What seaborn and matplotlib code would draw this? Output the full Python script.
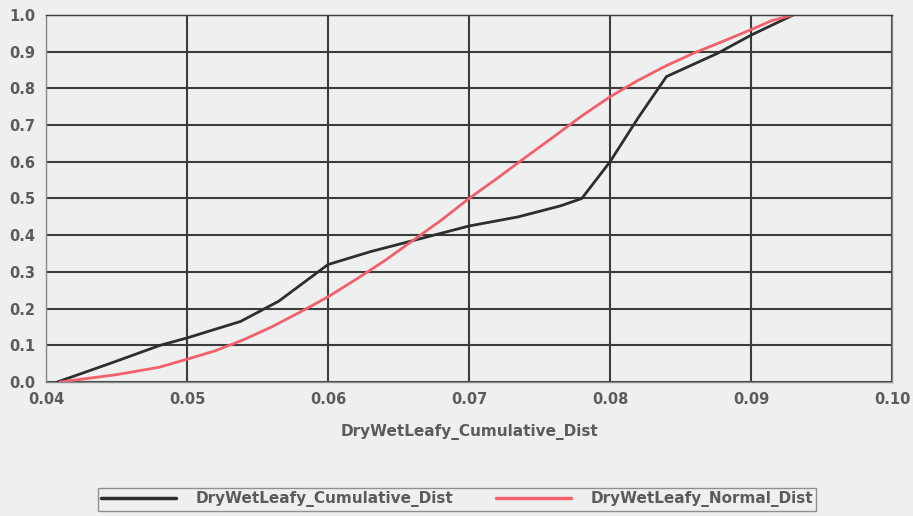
import numpy as np
import pandas as pd
import matplotlib.pyplot as plt
import seaborn as sns
from matplotlib.ticker import MultipleLocator
from matplotlib.lines import Line2D

# valores
cum_x = [0.0408, 0.0445, 0.0481, 0.0500, 0.0538, 0.0565, 0.0600, 0.0630, 0.0660,
         0.0700, 0.0735, 0.0765, 0.0780, 0.0800, 0.0820, 0.0840, 0.0876, 0.0900, 0.0930]
cum_y = [0.000, 0.050, 0.100, 0.120, 0.165, 0.220, 0.320, 0.355, 0.385,
         0.425, 0.450, 0.480, 0.500, 0.600, 0.720, 0.832, 0.895, 0.945, 1.000]

norm_x = [0.0410, 0.0450, 0.0480, 0.0500, 0.0520, 0.0540, 0.0560, 0.0580, 0.0600,
          0.0620, 0.0640, 0.0660, 0.0680, 0.0700, 0.0720, 0.0740, 0.0760, 0.0780,
          0.0800, 0.0820, 0.0840, 0.0860, 0.0880, 0.0900, 0.0915, 0.0930]
norm_y = [0.000, 0.020, 0.040, 0.062, 0.085, 0.115, 0.150, 0.190, 0.232,
          0.280, 0.330, 0.385, 0.440, 0.500, 0.555, 0.612, 0.668, 0.725,
          0.777, 0.822, 0.862, 0.897, 0.928, 0.960, 0.985, 1.000]

names = ['DryWetLeafy_Cumulative_Dist', 'DryWetLeafy_Normal_Dist']

df = pd.concat([
    pd.DataFrame({'x': cum_x, 'y': cum_y, 'serie': names[0]}),
    pd.DataFrame({'x': norm_x, 'y': norm_y, 'serie': names[1]}),
])

bg = '#eef0ef'
txt = '#5a5c5c'
black = '#2b2f2e'
red = '#f2606b'

sns.set_theme(style='white')
plt.rcParams['font.family'] = ['DejaVu Sans']

fig = plt.figure(figsize=(9.13, 5.16), dpi=100, facecolor=bg)
ax = fig.add_axes([0.0504, 0.2597, 0.9266, 0.7113])
ax.set_facecolor(bg)

sns.lineplot(data=df, x='x', y='y', hue='serie', sort=False,
             palette={names[0]: black, names[1]: red},
             linewidth=2, ax=ax, legend=False)

ax.set_xlim(0.04, 0.10)
ax.set_ylim(0, 1.0)
ax.xaxis.set_major_locator(MultipleLocator(0.01))
ax.xaxis.set_minor_locator(MultipleLocator(0.005))
ax.yaxis.set_major_locator(MultipleLocator(0.1))
ax.yaxis.set_minor_locator(MultipleLocator(0.05))
ax.xaxis.set_major_formatter(plt.FuncFormatter(lambda v, p: f'{v:.2f}'))
ax.yaxis.set_major_formatter(plt.FuncFormatter(lambda v, p: f'{v:.1f}'))

ax.grid(True, which='major', color='#3a3d3c', linewidth=1.5)
ax.set_axisbelow(True)
for s in ['left', 'bottom', 'right', 'top']:
    ax.spines[s].set_color('#8a8a8a')
    ax.spines[s].set_linewidth(1)
ax.spines['top'].set_color('#3a3d3c')

ax.tick_params(which='major', length=4, width=1, color='#666666',
               labelsize=10.5, labelcolor=txt, direction='out')
ax.tick_params(which='minor', length=3, width=1, color='#888888', direction='out')
for lab in ax.get_xticklabels() + ax.get_yticklabels():
    lab.set_fontweight('bold')

ax.set_xlabel('DryWetLeafy_Cumulative_Dist', fontsize=11, fontweight='bold',
              color=txt, labelpad=12)
ax.set_ylabel('')

# leyenda
handles = [Line2D([], [], color=black, linewidth=2.5),
           Line2D([], [], color=red, linewidth=2.5)]
leg = fig.legend(handles, names, loc='center', bbox_to_anchor=(0.5006, 0.032),
                 ncol=2, frameon=True, fancybox=False,
                 prop={'size': 11, 'weight': 'bold'},
                 handlelength=4.9, handletextpad=1.3, columnspacing=2.8,
                 borderpad=0.2)
leg.get_frame().set_edgecolor('#777777')
leg.get_frame().set_facecolor(bg)
for t in leg.get_texts():
    t.set_color(txt)

fig.savefig('out.png', dpi=100, facecolor=bg)
